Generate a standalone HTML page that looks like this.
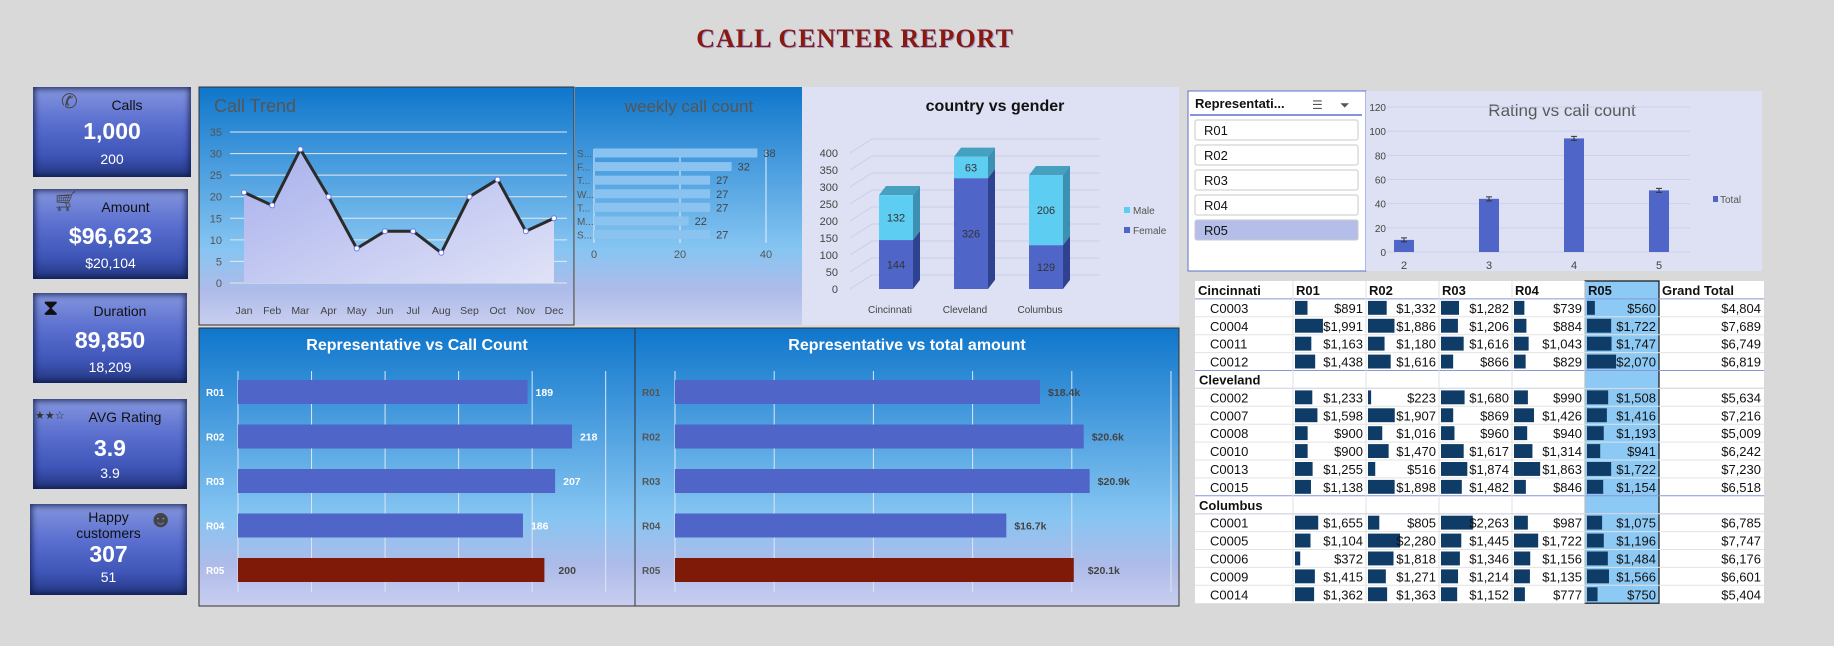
<!DOCTYPE html>
<html><head><meta charset="utf-8">
<style>
html,body{margin:0;padding:0;background:#d9d9d9;width:1834px;height:646px;overflow:hidden;font-family:"Liberation Sans",sans-serif;}
.card{position:absolute;background:linear-gradient(#8596de 0%,#5a6fcf 40%,#3f56b8 75%,#23367f 100%);box-shadow:inset 0 0 6px 2px rgba(10,20,60,.75);color:#fff;text-align:center;}
.card .lbl{position:absolute;left:0;right:0;color:#111;font-size:14px;}
.card .big{position:absolute;left:0;right:0;font-weight:bold;font-size:23px;}
.card .sm{position:absolute;left:0;right:0;font-size:14px;}
.card .ic{position:absolute;color:#444;font-size:20px;}
svg text{font-family:"Liberation Sans",sans-serif;}
</style></head>
<body>
<div style="position:absolute;left:0;width:1710px;top:24px;text-align:center;font-family:'Liberation Serif',serif;font-weight:bold;font-size:26px;color:#8b1a0e;letter-spacing:1px;text-shadow:1px 1px 0 #9aa0e0;">CALL CENTER REPORT</div>

<div class="card" style="left:33px;top:87px;width:158px;height:90px;">
 <span class="ic" style="left:28px;top:2px;">✆</span>
 <div class="lbl" style="top:10px;left:30px;">Calls</div>
 <div class="big" style="top:31px;">1,000</div>
 <div class="sm" style="top:64px;">200</div>
</div>
<div class="card" style="left:33px;top:189px;width:155px;height:90px;">
 <span class="ic" style="left:20px;top:0px;">🛒︎</span>
 <div class="lbl" style="top:10px;left:30px;">Amount</div>
 <div class="big" style="top:34px;">$96,623</div>
 <div class="sm" style="top:66px;">$20,104</div>
</div>
<div class="card" style="left:33px;top:293px;width:154px;height:90px;">
 <span class="ic" style="left:10px;top:2px;color:#111;font-size:22px;">⧗</span>
 <div class="lbl" style="top:10px;left:20px;">Duration</div>
 <div class="big" style="top:34px;">89,850</div>
 <div class="sm" style="top:66px;">18,209</div>
</div>
<div class="card" style="left:33px;top:399px;width:154px;height:90px;">
 <span class="ic" style="left:2px;top:10px;font-size:11px;color:#333;">★★☆</span>
 <div class="lbl" style="top:10px;left:30px;">AVG Rating</div>
 <div class="big" style="top:36px;">3.9</div>
 <div class="sm" style="top:66px;">3.9</div>
</div>
<div class="card" style="left:30px;top:504px;width:157px;height:91px;">
 <span class="ic" style="left:118px;top:2px;font-size:24px;">☻</span>
 <div class="lbl" style="top:5px;line-height:16px;">Happy<br>customers</div>
 <div class="big" style="top:37px;">307</div>
 <div class="sm" style="top:65px;">51</div>
</div>

<svg id="s" width="1834" height="646" style="position:absolute;left:0;top:0;pointer-events:none" xmlns="http://www.w3.org/2000/svg">
<defs>
<linearGradient id="pg" x1="0" y1="0" x2="0" y2="1">
<stop offset="0" stop-color="#0f76cb"/><stop offset="0.68" stop-color="#86c5f2"/><stop offset="0.85" stop-color="#adbbe9"/><stop offset="1" stop-color="#c8ceef"/></linearGradient>
<linearGradient id="ag" x1="0" y1="0" x2="1" y2="1">
<stop offset="0" stop-color="#a7b0ec"/><stop offset="1" stop-color="#e0e2f7"/></linearGradient>
</defs>
</svg>

<script>
// ---- data ----
const months=["Jan","Feb","Mar","Apr","May","Jun","Jul","Aug","Sep","Oct","Nov","Dec"];
const trendVals=[21,18,31,20,8,12,12,7,20,24,12,15];
const trendTicks=[0,5,10,15,20,25,30,35];
const weekDays=["S...","F...","T...","W...","T...","M...","S..."];
const weekVals=[38,32,27,27,27,22,27];
const weekTicks=[0,20,40];
const cities=["Cincinnati","Cleveland","Columbus"];
const femaleVals=[144,326,129];
const maleVals=[132,63,206];
const genderTicks=[0,50,100,150,200,250,300,350,400];
const ratings=["2","3","4","5"];
const ratingCounts=[10,44,94,51];
const ratingTicks=[0,20,40,60,80,100,120];
const reps=["R01","R02","R03","R04","R05"];
const repCalls=[189,218,207,186,200];
const repAmount=[18.4,20.6,20.9,16.7,20.1];
const slicerItems=["R01","R02","R03","R04","R05"];
const tableCols=["R01","R02","R03","R04","R05","Grand Total"];
const tableRows=[
["Cincinnati"],
["C0003",891,1332,1282,739,560,4804],
["C0004",1991,1886,1206,884,1722,7689],
["C0011",1163,1180,1616,1043,1747,6749],
["C0012",1438,1616,866,829,2070,6819],
["Cleveland"],
["C0002",1233,223,1680,990,1508,5634],
["C0007",1598,1907,869,1426,1416,7216],
["C0008",900,1016,960,940,1193,5009],
["C0010",900,1470,1617,1314,941,6242],
["C0013",1255,516,1874,1863,1722,7230],
["C0015",1138,1898,1482,846,1154,6518],
["Columbus"],
["C0001",1655,805,2263,987,1075,6785],
["C0005",1104,2280,1445,1722,1196,7747],
["C0006",372,1818,1346,1156,1484,6176],
["C0009",1415,1271,1214,1135,1566,6601],
["C0014",1362,1363,1152,777,750,5404]];

const S=document.getElementById('s');
const NS="http://www.w3.org/2000/svg";
function mk(tag,a,p){const e=document.createElementNS(NS,tag);for(const k in a)e.setAttribute(k,a[k]);(p||S).appendChild(e);return e;}
function tx(x,y,t,a,p){const e=mk('text',Object.assign({x:x,y:y},a),p);e.textContent=t;return e;}
const fmt=v=>'$'+v.toLocaleString('en-US');

// ---- Call trend ----
let g=mk('g',{});


let r=mk('rect',{x:199,y:87,width:375,height:238,fill:'url(#pg)',stroke:'#333','stroke-width':1},g);


let t=tx(214,112,'Call Trend',{fill:'#555','font-size':18},g);


const tx0=244,tx1=554,ty0=283,tyTop=132;
const xT=i=>tx0+i*(tx1-tx0)/(months.length-1);
const yT=v=>ty0-v*(ty0-tyTop)/35;
trendTicks.forEach(v=>{
  const l=mk('line',{x1:230,x2:567,y1:yT(v),y2:yT(v),stroke:'#e8e8e8','stroke-width':1},g);
  
  
  const tt=tx(222,yT(v)+4,String(v),{fill:'#555','font-size':11,'text-anchor':'end'},g);
  
  
});
let pts=trendVals.map((v,i)=>xT(i)+','+yT(v));
let area=mk('polygon',{points:xT(0)+','+ty0+' '+pts.join(' ')+' '+xT(11)+','+ty0,fill:'url(#ag)'},g);


let ln=mk('polyline',{points:pts.join(' '),fill:'none',stroke:'#2b2b2b','stroke-width':3,'stroke-linejoin':'round'},g);


trendVals.forEach((v,i)=>{
  const c=mk('circle',{cx:xT(i),cy:yT(v),r:2.5,fill:'#fff',stroke:'#6a78e0','stroke-width':1},g);
  
  
  const m=tx(xT(i),314,months[i],{fill:'#444','font-size':10.5,'text-anchor':'middle'},g);
  
  
});

// ---- Weekly ----
g=mk('g',{});


r=mk('rect',{x:575,y:87,width:227,height:238,fill:'url(#pg)'},g);


t=tx(689,112,'weekly call count',{fill:'#555','font-size':17,'text-anchor':'middle'},g);


const wx0=594,wsc=172/40;
weekTicks.forEach(v=>{
  const l=mk('line',{x1:wx0+v*wsc,x2:wx0+v*wsc,y1:149,y2:243,stroke:'#e6eef8','stroke-width':1},g);
  
  
  const tt=tx(wx0+v*wsc,258,String(v),{fill:'#555','font-size':11,'text-anchor':'middle'},g);
  
  
});
weekVals.forEach((v,i)=>{
  const cy=153+i*13.6;
  const b=mk('rect',{x:wx0,y:cy-4.5,width:v*wsc,height:9,fill:'#8ac3f0'},g);
  
  
  const lb=tx(577,cy+4,weekDays[i],{fill:'#555','font-size':10},g);
  
  
  const vl=tx(wx0+v*wsc+6,cy+4,String(v),{fill:'#444','font-size':11},g);
  
  
});

// ---- Country vs gender ----
g=mk('g',{});


r=mk('rect',{x:802,y:87,width:377,height:238,fill:'#dde1f3'},g);


t=tx(995,111,'country vs gender',{fill:'#111','font-size':16,'font-weight':'bold','text-anchor':'middle'},g);


const gy0=289,gsc=136/400;
const yG=v=>gy0-v*gsc;
genderTicks.forEach(v=>{
  const l=mk('polyline',{points:(850)+','+yG(v)+' '+(872)+','+(yG(v)-14)+' '+1100+','+(yG(v)-14),fill:'none',stroke:'#c9cee9','stroke-width':1},g);
  
  
  const tt=tx(838,yG(v)+4,String(v),{fill:'#444','font-size':11,'text-anchor':'end'},g);
  
  
});
const gx=[879,954,1029],gw=34,dp=7;
cities.forEach((c,i)=>{
  const x=gx[i],f=femaleVals[i],m=maleVals[i];
  const yf=yG(f),ym=yG(f+m);
  const sf=mk('polygon',{points:`${x+gw},${gy0} ${x+gw+dp},${gy0-dp*1.3} ${x+gw+dp},${yf-dp*1.3} ${x+gw},${yf}`,fill:'#2f4290'},g);
  
  
  const sm=mk('polygon',{points:`${x+gw},${yf} ${x+gw+dp},${yf-dp*1.3} ${x+gw+dp},${ym-dp*1.3} ${x+gw},${ym}`,fill:'#3c91b2'},g);
  
  
  const tp=mk('polygon',{points:`${x},${ym} ${x+dp},${ym-dp*1.3} ${x+gw+dp},${ym-dp*1.3} ${x+gw},${ym}`,fill:'#46a0bf'},g);
  
  
  const bf=mk('rect',{x:x,y:yf,width:gw,height:gy0-yf,fill:'#4f66c8'},g);
  
  
  const bm=mk('rect',{x:x,y:ym,width:gw,height:yf-ym,fill:'#5ecdf2'},g);
  
  
  const lf=tx(x+gw/2,(yf+gy0)/2+4,String(f),{fill:'#333','font-size':11,'text-anchor':'middle'},g);
  
  
  const lm=tx(x+gw/2,(yf+ym)/2+4,String(m),{fill:'#333','font-size':11,'text-anchor':'middle'},g);
  
  
  const cl=tx(x+gw/2-6,313,c,{fill:'#444','font-size':10,'text-anchor':'middle'},g);
  
  
});
let lg=mk('rect',{x:1124,y:207,width:6,height:6,fill:'#5ecdf2'},g);


t=tx(1133,214,'Male',{fill:'#555','font-size':10},g);


lg=mk('rect',{x:1124,y:227,width:6,height:6,fill:'#4f66c8'},g);


t=tx(1133,234,'Female',{fill:'#555','font-size':10},g);



// ---- Slicer ----
g=mk('g',{});


r=mk('rect',{x:1188,y:91,width:178,height:180,fill:'#fff',stroke:'#5a72d0','stroke-width':1},g);


t=tx(1195,108,'Representati...',{fill:'#111','font-size':13,'font-weight':'bold'},g);


t=tx(1312,109,'☰',{fill:'#555','font-size':12},g);


t=tx(1340,109,'⏷',{fill:'#555','font-size':12},g);


let hl=mk('line',{x1:1190,x2:1362,y1:115,y2:115,stroke:'#5a72d0','stroke-width':1.5},g);


slicerItems.forEach((s,i)=>{
  const y=120+i*25;
  const sel=i===4;
  const b=mk('rect',{x:1195,y:y,width:163,height:20,rx:2,fill:sel?'#b4bee9':'#fff',stroke:'#c9c9c9'},g);
  
  
  const l=tx(1204,y+15,s,{fill:'#111','font-size':13},g);
  
  
});

// ---- Rating chart ----
g=mk('g',{});


r=mk('rect',{x:1366,y:91,width:396,height:180,fill:'#dde1f3'},g);


t=tx(1562,116,'Rating vs call count',{fill:'#595959','font-size':17,'text-anchor':'middle'},g);


const ry0=252,rsc=145/120;
const yR=v=>ry0-v*rsc;
ratingTicks.forEach(v=>{
  const l=mk('line',{x1:1387,x2:1690,y1:yR(v),y2:yR(v),stroke:'#ccd1ea','stroke-width':1},g);
  
  
  const tt=tx(1386,yR(v)+4,String(v),{fill:'#444','font-size':10,'text-anchor':'end'},g);
  
  
});
const rx=[1404,1489,1574,1659];
ratingCounts.forEach((v,i)=>{
  const b=mk('rect',{x:rx[i]-10,y:yR(v),width:20,height:v*rsc,fill:'#4f66c8'},g);
  
  
  const e=mk('path',{d:`M${rx[i]-3},${yR(v)-2}h6M${rx[i]},${yR(v)-2}v4M${rx[i]-3},${yR(v)+2}h6`,stroke:'#333','stroke-width':1},g);
  
  
  const l=tx(rx[i],269,ratings[i],{fill:'#444','font-size':11,'text-anchor':'middle'},g);
  
  
});
lg=mk('rect',{x:1713,y:196,width:5,height:6,fill:'#4f66c8'},g);


t=tx(1720,203,'Total',{fill:'#555','font-size':10},g);



// ---- Bottom bar charts ----
function hbar(name,px,pw,title,vals,x0,sc,tickStep,tickN,labFn,labColor){
  const g=mk('g',{});
  
  
  const r=mk('rect',{x:px,y:328,width:pw,height:278,fill:'url(#pg)',stroke:'#333','stroke-width':1},g);
  
  
  const t=tx(px+pw/2,350,title,{fill:'#fff','font-size':16,'font-weight':'bold','text-anchor':'middle'},g);
  
  
  for(let k=0;k<=tickN;k++){
    const x=x0+k*tickStep*sc;
    const l=mk('line',{x1:x,x2:x,y1:371,y2:592,stroke:'#dde6f3','stroke-width':1},g);
    
    
  }
  vals.forEach((v,i)=>{
    const cy=392+i*44.5;
    const b=mk('rect',{x:x0,y:cy-12,width:v*sc,height:24,fill:i===4?'#7f1a08':'#4f66c8'},g);
    
    
    const rl=tx(px+7,cy+4,reps[i],{fill:labColor,'font-size':10,'font-weight':'bold'},g);
    
    
    const vl=tx(x0+v*sc+(i===4?14:8),cy+4,labFn(v),{fill:i===4||labColor!=='#fff'?'#444':'#fff','font-size':10.5,'font-weight':'bold'},g);
    
    
  });
}
hbar('rep-call-count-chart',199,436,'Representative  vs Call Count',repCalls,238,1.532,48,5,v=>String(v),'#fff');
hbar('rep-amount-chart',635,544,'Representative vs total amount',repAmount,675,19.84,5,5,v=>'$'+v.toFixed(1)+'k','#555');

// ---- Pivot table ----
g=mk('g',{});


const cx=[1195,1293,1366,1439,1512,1585,1659,1764];
const rh=17.9,ty=281,nR=18;
r=mk('rect',{x:1195,y:ty,width:569,height:rh*nR,fill:'#fff'},g);


r=mk('rect',{x:cx[5],y:ty,width:cx[6]-cx[5],height:rh*nR,fill:'#8dc9f5',stroke:'#111','stroke-width':1.2},g);


const hdr=["Cincinnati"].concat(tableCols);
hdr.forEach((h,j)=>{
  const c=tx(cx[j]+3,ty+14,h,{fill:'#111','font-size':13,'font-weight':'bold'},g);
  
  
});
const bmax=2280;
tableRows.slice(1).forEach((row,ri)=>{
  const y=ty+(ri+1)*rh;
  const sep=mk('line',{x1:1195,x2:1764,y1:y,y2:y,stroke:row.length===1||ri===0?'#8a96d8':'#e3e3e3','stroke-width':1},g);
  
  
  if(row.length===1){
    const c=tx(1199,y+14,row[0],{fill:'#111','font-size':13,'font-weight':'bold'},g);
    
    
    const s2=mk('line',{x1:1195,x2:1764,y1:y+rh,y2:y+rh,stroke:'#8a96d8','stroke-width':1},g);
    
    
    return;
  }
  const c=tx(1210,y+14,row[0],{fill:'#111','font-size':13},g);
  
  
  for(let j=1;j<=6;j++){
    const v=row[j];
    if(j<=5){
      const db=mk('rect',{x:cx[j]+2,y:y+2,width:Math.max(2,v/bmax*32),height:rh-4,fill:'#0f3c66'},g);
      
      
    }
    const vc=tx(cx[j+1]-3,y+14,fmt(v),{fill:'#111','font-size':13,'text-anchor':'end'},g);
    
    
  }
});
cx.slice(1,6).forEach(x=>{
  const l=mk('line',{x1:x,x2:x,y1:ty,y2:ty+rh*nR,stroke:'#e0e0e0','stroke-width':1},g);
  
  
});
</script>
</body></html>
